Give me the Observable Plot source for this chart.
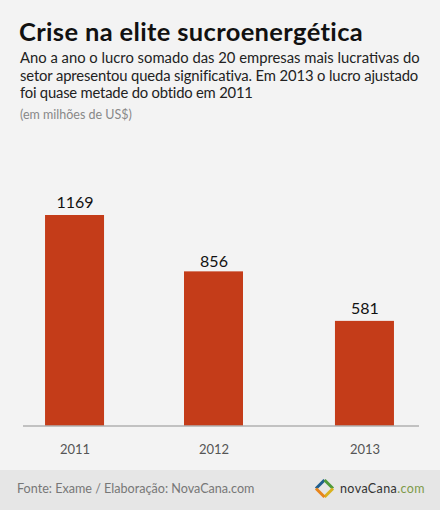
<!DOCTYPE html>
<html><head><meta charset="utf-8">
<script src="https://cdn.jsdelivr.net/npm/d3@7"></script>
<script src="https://cdn.jsdelivr.net/npm/@observablehq/plot@0.6"></script>
<style>
html,body{margin:0;padding:0;background:#f3f3f3;}
#page{position:relative;width:440px;height:510px;overflow:hidden;background:#f3f3f3;font-family:Lato,sans-serif;}
#page>*{position:absolute;margin:0;}
h1{left:19px;top:15px;font-size:25.5px;line-height:32px;font-weight:700;color:#111;letter-spacing:.35px;white-space:nowrap;}
#sub{left:20px;top:49px;font-size:14.8px;line-height:17.5px;color:#222;white-space:pre;}
#sub .l2{letter-spacing:-.13px;}
#sub .l3{letter-spacing:-.2px;}
#unit{left:20px;top:107px;font-size:12.5px;line-height:16px;color:#888;}
#chart{left:0;top:130px;}
#foot{left:0;top:470px;width:440px;height:40px;background:#e6e6e6;}
#src{left:17px;top:480px;font-size:12.6px;line-height:18px;color:#777;white-space:nowrap;}
#logo{left:314px;top:476px;}
</style></head>
<body><div id="page">
<h1>Crise na elite sucroenergética</h1>
<p id="sub">Ano a ano o lucro somado das 20 empresas mais lucrativas do
<span class="l2">setor apresentou queda significativa. Em 2013 o lucro ajustado</span>
<span class="l3">foi quase metade do obtido em 2011</span></p>
<p id="unit">(em milhões de US$)</p>
<div id="chart"></div>
<div id="foot"></div>
<p id="src">Fonte: Exame / Elaboração: NovaCana.com</p>
<svg id="logo" width="116" height="26" viewBox="0 0 116 26">
  <path d="M2 12.500 L10.500 4" stroke="#1f5f8f" stroke-width="3" fill="none"/>
  <path d="M10.500 4 L19 12.500" stroke="#4f9a3a" stroke-width="3" fill="none"/>
  <path d="M19 12.500 L10.500 21" stroke="#d9b21f" stroke-width="3" fill="none"/>
  <path d="M10.500 21 L2 12.500" stroke="#e8851c" stroke-width="3" fill="none"/>
  <text x="26" y="16.500" font-family="Lato,sans-serif" font-size="12.5" fill="#333" letter-spacing=".4">novaCana<tspan fill="#7d9a4a">.com</tspan></text>
</svg>
</div>
<script>
const years = ["2011", "2012", "2013"];
const profit = [1169, 856, 581];
const table = years.map((year, i) => ({year, value: profit[i]}));
const barColor = "#c43c19";
const lineColor = "#8f8f8f";
const tickColor = "#555";
const labelColor = "#111";
// the reference sets 2012 slightly left of even spacing, with its label closer to the bar
const nudge = y => (y === "2012" ? -6 : 0);
const lift = y => (y === "2012" ? -10 : -13);

const groups = years.flatMap(y => {
  const rows = table.filter(d => d.year === y);
  return [
    Plot.barY(rows, {x: "year", y: "value", fill: barColor, dx: nudge(y)}),
    Plot.text(rows, {x: "year", y: "value", text: d => String(d.value), dx: nudge(y), dy: lift(y),
      fontSize: 16, fontFamily: "Lato, sans-serif", fill: labelColor}),
    Plot.axisX([y], {tickSize: 0, tickPadding: 18.5, dx: nudge(y), fontSize: 13,
      fontFamily: "Lato, sans-serif", color: tickColor, label: null})
  ];
});

const chart = Plot.plot({
  width: 440,
  height: 340,
  marginTop: 85,
  marginBottom: 44.5,
  marginLeft: 23,
  marginRight: 24,
  style: {background: "transparent", overflow: "visible"},
  x: {type: "band", domain: years, paddingInner: 0.593, paddingOuter: 0.152, align: 0.5, round: false, axis: null},
  y: {domain: [0, 1169], axis: null},
  marks: [
    ...groups,
    Plot.ruleY([0], {stroke: lineColor, strokeWidth: 1, insetRight: -3})
  ]
});
document.getElementById("chart").append(chart);
</script>
</body></html>
